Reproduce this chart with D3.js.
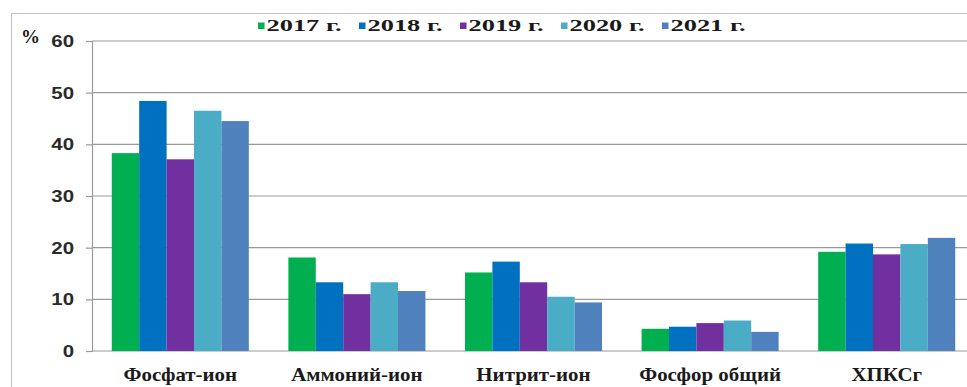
<!DOCTYPE html>
<html>
<head>
<meta charset="utf-8">
<script src="https://cdn.jsdelivr.net/npm/d3@7/dist/d3.min.js"></script>
<style>
  html, body { margin: 0; padding: 0; background: #fff; }
  svg { display: block; }
  .serif { font-family: "Liberation Serif", "Times New Roman", serif; font-weight: bold; }
  .sans { font-family: "Liberation Sans", Arial, sans-serif; font-weight: bold; }
</style>
</head>
<body>
<svg id="chart" width="967" height="387"></svg>
<script>
// Share of samples above the norm, by indicator and year (%)
const categories = ["Фосфат-ион", "Аммоний-ион", "Нитрит-ион", "Фосфор общий", "ХПКСг"];
const years = ["2017 г.", "2018 г.", "2019 г.", "2020 г.", "2021 г."];
const v2017 = [38.3, 18.1, 15.2, 4.3, 19.2];
const v2018 = [48.4, 13.3, 17.3, 4.7, 20.8];
const v2019 = [37.1, 11.0, 13.3, 5.4, 18.7];
const v2020 = [46.5, 13.3, 10.5, 5.9, 20.7];
const v2021 = [44.5, 11.6, 9.4, 3.7, 21.9];
const yTicks = [0, 10, 20, 30, 40, 50, 60];
const yUnit = "%";

const series = [v2017, v2018, v2019, v2020, v2021];
const colors = ["#00B050", "#0070C0", "#7030A0", "#4BACC6", "#4F81BD"];

const svg = d3.select("#chart");
const W = 967, H = 387;
const plot = { left: 92, right: 975, top: 41, bottom: 351 };

// widen text horizontally by factor k
function stretch(sel, k) {
  sel.each(function () {
    const w = this.getComputedTextLength();
    d3.select(this).attr("textLength", w * k).attr("lengthAdjust", "spacingAndGlyphs");
  });
}

// outer frame
svg.append("path")
  .attr("d", `M11.5,${H} V13.5 H${W}`)
  .attr("fill", "none").attr("stroke", "#c4c4c4").attr("stroke-width", 1.2);

const x = d3.scaleBand().domain(categories).range([plot.left, plot.right])
  .paddingInner(0.224).paddingOuter(0.112);
const xi = d3.scaleBand().domain(years).range([0, x.bandwidth()]);
const y = d3.scaleLinear().domain([0, 60]).range([plot.bottom, plot.top]);

// gridlines
svg.append("g").selectAll("line").data(yTicks).join("line")
  .attr("x1", plot.left).attr("x2", W)
  .attr("y1", d => y(d)).attr("y2", d => y(d))
  .attr("stroke", "#9a9a9a").attr("stroke-width", 1.2);

// y axis
const yAxis = d3.axisLeft(y).tickValues(yTicks).tickSize(6).tickPadding(12);
const gy = svg.append("g").attr("transform", `translate(${plot.left},0)`).call(yAxis);
gy.attr("font-family", null).attr("font-size", null);
gy.select(".domain").attr("stroke", "#9a9a9a").attr("stroke-width", 1.2);
gy.selectAll(".tick line").attr("stroke", "#9a9a9a").attr("stroke-width", 1.2);
gy.selectAll(".tick text")
  .attr("class", "sans")
  .attr("font-size", 17).attr("fill", "#2a2a2a")
  .call(stretch, 1.2);

// bars
const groups = svg.append("g").selectAll("g").data(categories).join("g")
  .attr("transform", d => `translate(${x(d)},0)`);
groups.selectAll("rect")
  .data((c, ci) => years.map((yr, si) => ({ yr, si, v: series[si][ci] })))
  .join("rect")
  .attr("x", d => xi(d.yr))
  .attr("width", xi.bandwidth())
  .attr("y", d => y(d.v))
  .attr("height", d => y(0) - y(d.v))
  .attr("fill", d => colors[d.si]);

// category labels
svg.append("g").selectAll("text").data(categories).join("text")
  .attr("class", "serif")
  .attr("x", d => x(d) + x.bandwidth() / 2)
  .attr("y", 381)
  .attr("text-anchor", "middle")
  .attr("font-size", 19).attr("fill", "#1a1a1a")
  .text(d => d)
  .call(stretch, 1.1);

// unit label
svg.append("text")
  .attr("class", "serif")
  .attr("x", 21).attr("y", 43)
  .attr("font-size", 19).attr("fill", "#1a1a1a")
  .text(yUnit);

// legend
const legend = svg.append("g").selectAll("g").data(years).join("g")
  .attr("transform", (d, i) => `translate(${258 + i * 101},0)`);
legend.append("rect")
  .attr("x", 0).attr("y", 22.5).attr("width", 6.5).attr("height", 6.5)
  .attr("fill", (d, i) => colors[i]);
legend.append("text")
  .attr("class", "serif")
  .attr("x", 8.5).attr("y", 31)
  .attr("font-size", 16).attr("fill", "#1a1a1a")
  .text(d => d)
  .call(stretch, 1.65);
</script>
</body>
</html>
